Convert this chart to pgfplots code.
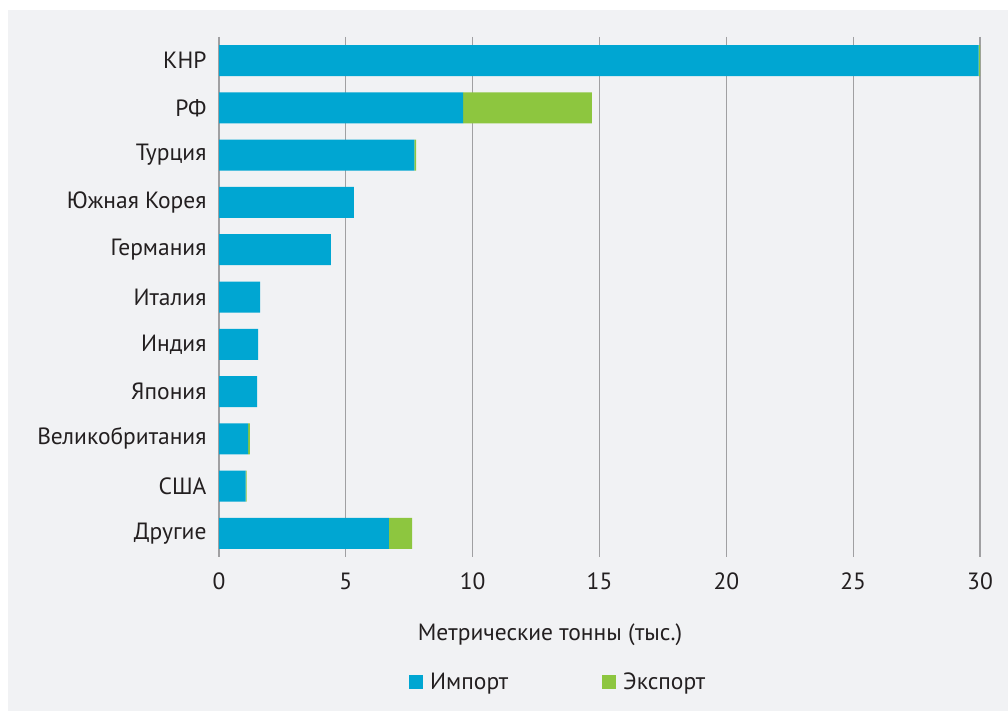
\documentclass[border=0pt]{standalone}
\usepackage{fontspec}
\setmainfont{PT Sans}
\usepackage{pgfplots}
\pgfplotsset{compat=1.18}
\usepackage{pgfplotstable}
\definecolor{bg}{HTML}{F1F2F4}
\definecolor{imp}{HTML}{00A6D2}
\definecolor{exp}{HTML}{8DC63F}
\definecolor{txt}{HTML}{231F20}
\definecolor{gridc}{HTML}{A0A0A2}
\pgfplotstableread{
y imp exp
0 29.95 0.05
1 9.62 5.08
2 7.70 0.07
3 5.32 0
4 4.41 0
5 1.62 0
6 1.54 0
7 1.50 0
8 1.15 0.07
9 1.05 0.04
10 6.70 0.91
}\datatab
\begin{document}
\begin{tikzpicture}
\path[use as bounding box] (0pt,0pt) rectangle (1008pt,711pt);
\fill[bg] (8pt,0pt) rectangle (1008pt,701pt);
\begin{axis}[
  at={(219pt,154pt)}, anchor=south west,
  scale only axis, width=761pt, height=520pt,
  xmin=0, xmax=30, ymin=-0.5, ymax=10.5,
  y dir=reverse,
  xbar stacked, bar width=31pt,
  axis line style={draw=none},
  xmajorgrids, grid style={gridc, line width=1.2pt},
  xtick={0,5,...,30},
  ytick={0,...,10},
  yticklabels={КНР,РФ,Турция,Южная Корея,Германия,Италия,Индия,Япония,Великобритания,США,Другие},
  tick style={draw=none},
  major tick length=0pt,
  /pgf/number format/assume math mode=true,
  every tick label/.append style={font=\fontsize{23.5}{27}\selectfont, text=txt},
  xticklabel style={anchor=center, yshift=-24pt},
  yticklabel style={anchor=east, xshift=-9pt},
  xlabel={Метрические тонны (тыс.)},
  xlabel style={at={(axis description cs:0.435,-0.15)}, anchor=center, font=\fontsize{23.5}{27}\selectfont, text=txt},
  legend style={at={(axis description cs:0.2497,-0.2404)}, anchor=west, draw=none, fill=none, inner sep=0pt,
    font=\fontsize{23.5}{27}\selectfont, text=txt, legend columns=2,
    /tikz/every odd column/.style={column sep=5pt},
    /tikz/every even column/.style={column sep=92pt}},
  legend image code/.code={\fill[#1] (0pt,-7pt) rectangle (14pt,7pt);},
  clip=false,
]
\addplot[fill=imp, draw=none] table[x=imp, y=y] {\datatab};
\addplot[fill=exp, draw=none] table[x=exp, y=y] {\datatab};
\legend{Импорт, Экспорт}
\end{axis}
\end{tikzpicture}
\end{document}
